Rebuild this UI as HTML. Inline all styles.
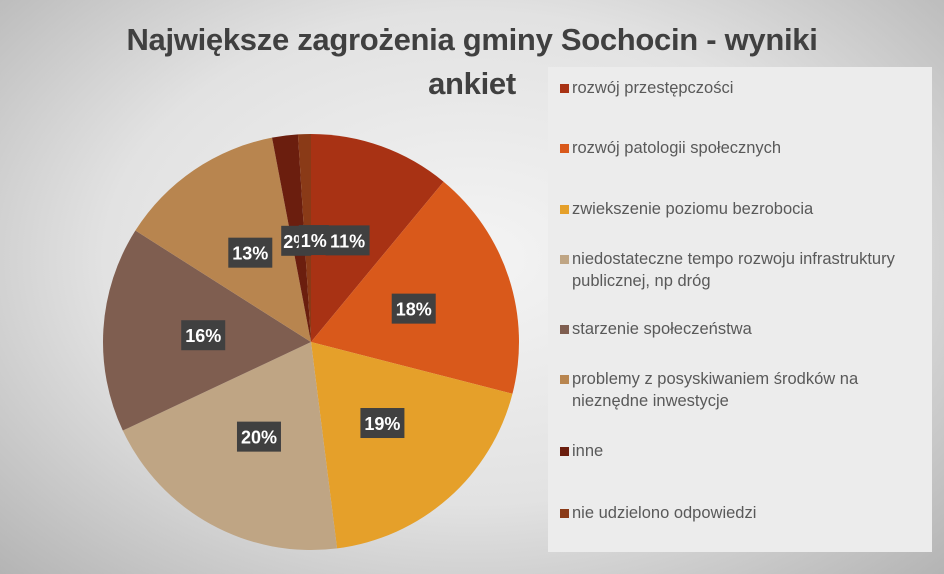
<!DOCTYPE html>
<html><head><meta charset="utf-8"><style>
body{margin:0;width:944px;height:574px;overflow:hidden;font-family:"Liberation Sans",sans-serif}
#bg{position:absolute;left:0;top:0;width:944px;height:574px;background:radial-gradient(ellipse at 50% 45%,#f4f4f4 0%,#e2e2e2 55%,#b4b4b4 100%)}
.title{position:absolute;left:0;width:944px;text-align:center;font-size:31px;font-weight:bold;color:#404040;letter-spacing:-0.3px}
#legend{position:absolute;left:548px;top:67px;width:384px;height:485px;background:#ececec}
.le{position:absolute;left:12px;font-size:16.5px;color:#595959;line-height:22px;padding-left:12px;text-indent:-12px;width:360px}
.sq{display:inline-block;width:9px;height:9px;margin-right:3px;text-indent:0}
</style></head><body>
<div id="bg"></div>
<div class="title" style="top:22px">Największe zagrożenia gminy Sochocin - wyniki</div>
<div class="title" style="top:66px">ankiet</div>
<svg id="pie" width="944" height="574" style="position:absolute;left:0;top:0"></svg>
<div id="legend"></div>
<script>
const categories=["rozwój przestępczości","rozwój patologii społecznych","zwiekszenie poziomu bezrobocia","niedostateczne tempo rozwoju infrastruktury publicznej, np dróg","starzenie społeczeństwa","problemy z posyskiwaniem środków na nieznędne inwestycje","inne","nie udzielono odpowiedzi"];
const values=[11,18,19,20,16,13,2,1];
const labels=["11%","18%","19%","20%","16%","13%","2%","1%"];
const colors=["#a83214","#d9591b","#e5a02a","#bfa584","#7f5e50","#b8854f","#6b1e0e","#8a3a17"];
const legendTops=[10,70,131,181,251,301,373,435];
const svg=document.getElementById('pie');const NS="http://www.w3.org/2000/svg";
const cx=311,cy=342,r=208;const tot=values.reduce((a,b)=>a+b,0);
let a0=0;
function pt(a,rr){return [cx+rr*Math.sin(a),cy-rr*Math.cos(a)];}
values.forEach((v,i)=>{const a1=a0+v/tot*2*Math.PI;const p0=pt(a0,r),p1=pt(a1,r);
const path=document.createElementNS(NS,'path');
path.setAttribute('d',`M${cx},${cy}L${p0[0]},${p0[1]}A${r},${r} 0 ${a1-a0>Math.PI?1:0} 1 ${p1[0]},${p1[1]}Z`);
path.setAttribute('fill',colors[i]);


svg.appendChild(path);a0=a1;});
a0=0;
values.forEach((v,i)=>{const a1=a0+v/tot*2*Math.PI;const m=(a0+a1)/2;const rr=v<5?102:108;const p=pt(m,rr);
const off=v<5?(i==6?-2:6):0;
const g=document.createElementNS(NS,'g');


const w=v<10?30:44;
const rc=document.createElementNS(NS,'rect');rc.setAttribute('x',p[0]-w/2+off);rc.setAttribute('y',p[1]-15);rc.setAttribute('width',w);rc.setAttribute('height',30);rc.setAttribute('fill','#404040');
const t=document.createElementNS(NS,'text');t.setAttribute('x',p[0]+off);t.setAttribute('y',p[1]+7);t.setAttribute('text-anchor','middle');t.setAttribute('fill','#fff');t.setAttribute('font-size','18');t.setAttribute('font-weight','bold');t.setAttribute('font-family','Liberation Sans, sans-serif');t.textContent=labels[i];
g.appendChild(rc);g.appendChild(t);svg.appendChild(g);a0=a1;});
const lg=document.getElementById('legend');
categories.forEach((c,i)=>{const d=document.createElement('div');d.className='le';d.style.top=legendTops[i]+'px';


d.innerHTML='<span class="sq" style="background:'+colors[i]+'"></span>'+c;lg.appendChild(d);});
</script>
</body></html>
